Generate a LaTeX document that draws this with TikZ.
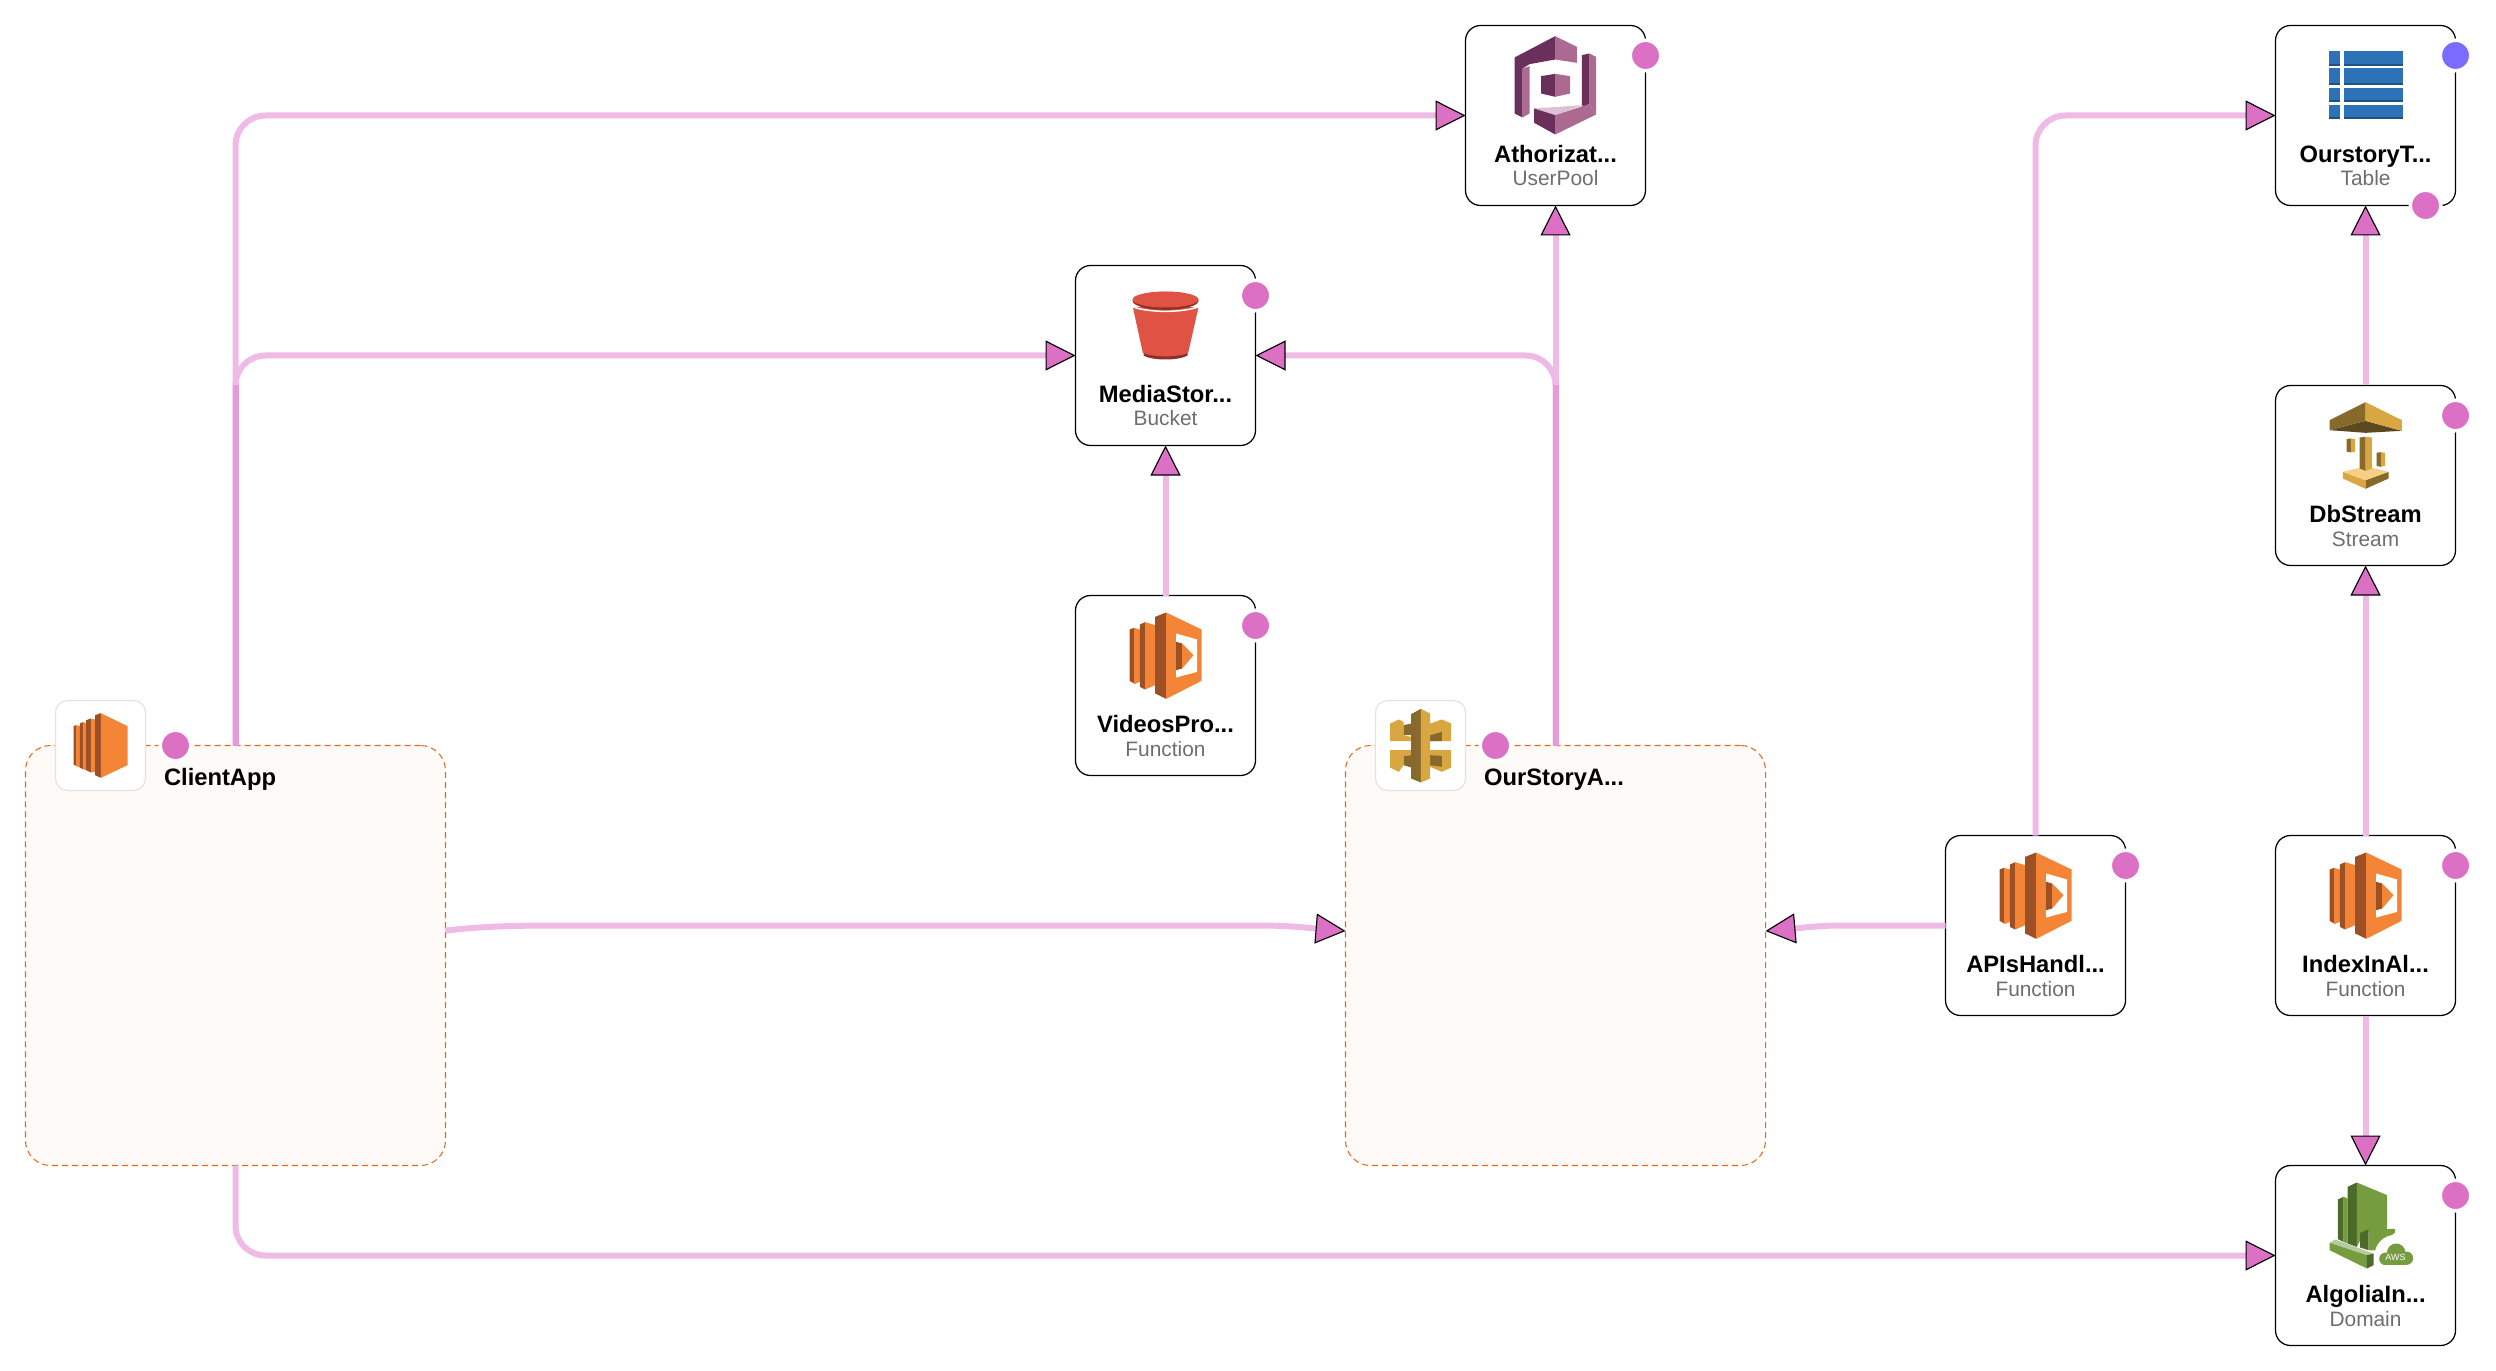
\documentclass[tikz,border=0pt]{standalone}
\usepackage{fontspec}
\setmainfont{Liberation Sans}
\usetikzlibrary{calc}
\usetikzlibrary{arrows.meta}
\definecolor{dotpink}{HTML}{DC70C4}
\definecolor{dotblue}{HTML}{7B6CFF}
\definecolor{linkpale}{HTML}{EFBAE6}
\definecolor{linkdark}{HTML}{E69AD9}
\definecolor{groupfill}{HTML}{FEFAF7}
\definecolor{groupline}{HTML}{E06A1B}
\definecolor{tileline}{HTML}{E2E2E2}
\definecolor{subgray}{HTML}{6E6E6E}
\definecolor{lamOrange}{HTML}{F58536}
\definecolor{lamDark}{HTML}{9D5025}
\definecolor{cogDark}{HTML}{6B2F5C}
\definecolor{cogLight}{HTML}{AD6A91}
\definecolor{cogPale}{HTML}{DDC0D4}
\definecolor{tabBlue}{HTML}{2D72B8}
\definecolor{tabDark}{HTML}{1F527F}
\definecolor{bktRed}{HTML}{E05243}
\definecolor{bktDark}{HTML}{8C3123}
\definecolor{gldMid}{HTML}{D9A741}
\definecolor{gldDark}{HTML}{87692B}
\definecolor{gldDeep}{HTML}{5E4820}
\definecolor{gldPale}{HTML}{F5CF85}
\definecolor{grnMid}{HTML}{759C3E}
\definecolor{grnDark}{HTML}{4C6A2A}
\definecolor{grnPale}{HTML}{B7CA9D}
\tikzset{
    resbox/.style={draw=black, line width=.5pt, fill=white, rounded corners=6pt, minimum size=72pt, inner sep=0pt, outer sep=0pt},
    groupbox/.style={draw=groupline, line width=.42pt, dash pattern=on 2.4pt off 1.6pt, fill=groupfill, rounded corners=10pt, minimum size=168pt, inner sep=0pt, outer sep=0pt},
    tilebox/.style={draw=tileline, line width=.45pt, fill=white, rounded corners=4.8pt, minimum size=36pt, inner sep=0pt, outer sep=0pt},
    restitle/.style={anchor=base, inner sep=0pt, font=\bfseries\fontsize{9.5}{11}\selectfont},
    restype/.style={anchor=base, inner sep=0pt, text=subgray, font=\fontsize{8.35}{10}\selectfont},
    dotmark/.style={circle, draw=white, line width=1.4pt, minimum size=12.2pt, inner sep=0pt, outer sep=0pt},
    flow/.style={draw=linkpale, line width=2.4pt, -{Triangle[length=12pt, width=12pt, line width=.45pt, color=black, fill=dotpink]}},
    flowbend/.style={flow, rounded corners=12pt},
    flowdark/.style={draw=linkdark, line width=2.4pt},
    iconunit/.style={x=.13333pt, y=-.13333pt}
}
\newcommand{\resource}[5]{\node[resbox] (#1) at (#2,#3) {}; \node[restitle] (#1title) at ($(#1.north)+(0,137)$) {#4}; \node[restype] (#1type) at ($(#1.north)+(0,160.5)$) {#5};}
\newcommand{\statusdot}[3]{\node[dotmark, fill=#3] (#1) at (#2) {};}
\newcommand{\iconLambda}[1]{\begin{scope}[shift={(#1.north west)}, iconunit]
\fill[lamDark] (162,102) -- (176,97) -- (176,264) -- (162,256) -- cycle;
\fill[lamOrange] (176,97) -- (193,102) -- (193,259) -- (176,266) -- cycle;
\fill[lamDark] (193,87) -- (209,80) -- (209,282) -- (193,274) -- cycle;
\fill[lamOrange] (209,80) -- (239,89) -- (239,269) -- (209,282) -- cycle;
\fill[lamDark] (239,64) -- (272,51) -- (272,310) -- (239,294) -- cycle;
\fill[lamOrange] (272,51) -- (378,102) -- (378,256) -- (272,310) -- cycle;
\fill[white] (302,114) -- (365,132) -- (365,229) -- (302,246) -- cycle;
\fill[lamDark] (302,139) -- (320,144) -- (320,219) -- (302,224) -- cycle;
\fill[lamOrange] (320,144) -- (354,179) -- (320,219) -- cycle;
\end{scope}}
\newcommand{\iconInstance}[1]{\begin{scope}[shift={(#1.north west)}, iconunit]
\fill[lamDark] (54,77) -- (62,74) -- (62,196) -- (54,192) -- cycle;
\fill[lamOrange] (62,74) -- (73,76) -- (73,201) -- (62,197) -- cycle;
\fill[lamDark] (73,69) -- (82,65) -- (82,206) -- (73,201) -- cycle;
\fill[lamOrange] (82,65) -- (92,67) -- (92,209) -- (82,206) -- cycle;
\fill[lamDark] (92,59) -- (106,54) -- (106,216) -- (92,209) -- cycle;
\fill[lamOrange] (106,54) -- (119,57) -- (119,214) -- (106,216) -- cycle;
\fill[lamDark] (119,44) -- (136,38) -- (136,232) -- (119,224) -- cycle;
\fill[lamOrange] (136,38) -- (216,77) -- (216,194) -- (136,232) -- cycle;
\end{scope}}
\newcommand{\iconGateway}[1]{\begin{scope}[shift={(#1.north west)}, iconunit]
\fill[gldMid] (44,69) -- (70,57) -- (84,64) -- (84,104) -- (107,109) -- (107,122) -- (44,122) -- cycle;
\fill[gldDark] (84,74) -- (107,69) -- (107,104) -- (84,104) -- cycle;
\fill[gldMid] (164,69) -- (199,57) -- (227,69) -- (227,122) -- (164,122) -- cycle;
\fill[gldDark] (164,104) -- (199,94) -- (199,122) -- (164,122) -- cycle;
\fill[gldMid] (44,149) -- (107,149) -- (107,164) -- (84,166) -- (84,194) -- (70,214) -- (44,201) -- cycle;
\fill[gldDark] (84,166) -- (107,164) -- (107,201) -- (84,194) -- cycle;
\fill[gldMid] (164,149) -- (227,149) -- (227,201) -- (199,214) -- (164,199) -- cycle;
\fill[gldDark] (164,164) -- (199,166) -- (199,199) -- (164,194) -- cycle;
\fill[gldDark] (107,41) -- (136,25) -- (136,246) -- (107,234) -- cycle;
\fill[gldMid] (136,25) -- (164,39) -- (164,234) -- (136,246) -- cycle;
\end{scope}}
\newcommand{\iconPool}[1]{\begin{scope}[shift={(#1.north west)}, iconunit]
\fill[cogDark] (147,96) -- (269,32) -- (269,102) -- (192,116) -- (171,129) -- (171,276) -- (147,264) -- cycle;
\fill[cogLight] (171,129) -- (192,122) -- (192,264) -- (171,276) -- cycle;
\fill[cogLight] (269,32) -- (334,64) -- (334,112) -- (269,102) -- cycle;
\fill[cogDark] (349,89) -- (371,84) -- (371,236) -- (349,244) -- cycle;
\fill[cogLight] (371,84) -- (392,94) -- (392,267) -- (371,236) -- cycle;
\fill[cogPale] (206,249) -- (354,239) -- (269,269) -- cycle;
\fill[cogDark] (206,249) -- (269,269) -- (269,327) -- (206,292) -- cycle;
\fill[cogLight] (269,269) -- (371,236) -- (392,267) -- (269,327) -- cycle;
\fill[cogDark] (227,152) -- (269,145) -- (269,214) -- (227,204) -- cycle;
\fill[cogLight] (269,145) -- (314,152) -- (314,204) -- (269,214) -- cycle;
\end{scope}}
\newcommand{\tablerow}[2]{\fill[tabBlue] (160,#1) rectangle (194,#2); \fill[tabBlue] (204,#1) rectangle (382,#2); \fill[tabDark] (160,#2-7) rectangle (194,#2); \fill[tabDark] (204,#2-7) rectangle (382,#2);}
\newcommand{\iconTable}[1]{\begin{scope}[shift={(#1.north west)}, iconunit]
\tablerow{77}{122}
\tablerow{129}{179}
\tablerow{187}{231}
\tablerow{239}{282}
\end{scope}}
\newcommand{\iconBucket}[1]{\begin{scope}[shift={(#1.north west)}, iconunit]
\fill[bktDark] (204,262) -- (336,262) -- (336,270) .. controls (310,286) and (230,286) .. (204,270) -- cycle;
\fill[bktRed] (172,125) -- (369,125) -- (338,262) .. controls (310,276) and (230,276) .. (202,262) -- cycle;
\draw[white, line width=.6pt] (172,124) .. controls (220,142) and (320,142) .. (369,124);
\fill[bktDark] (270,106) ellipse [x radius=99, y radius=27];
\fill[bktRed] (270,102) ellipse [x radius=99, y radius=24];
\end{scope}}
\newcommand{\iconStream}[1]{\begin{scope}[shift={(#1.north west)}, iconunit]
\fill[gldDeep] (162,134) -- (270,106) -- (379,136) -- (270,142) -- cycle;
\fill[gldDark] (162,104) -- (270,50) -- (270,106) -- (162,134) -- cycle;
\fill[gldMid] (270,50) -- (379,104) -- (379,136) -- (270,106) -- cycle;
\fill[gldMid] (202,259) -- (270,284) -- (270,310) -- (202,279) -- cycle;
\fill[gldDark] (270,284) -- (339,259) -- (339,279) -- (270,310) -- cycle;
\fill[gldPale] (202,259) -- (252,247) -- (289,247) -- (339,259) -- (270,284) -- cycle;
\fill[gldDark] (252,156) -- (270,154) -- (270,256) -- (252,249) -- cycle;
\fill[gldMid] (270,154) -- (289,156) -- (289,249) -- (270,256) -- cycle;
\fill[gldDark] (213,161) -- (226,159) -- (226,201) -- (213,198) -- cycle;
\fill[gldMid] (226,159) -- (239,161) -- (239,199) -- (226,201) -- cycle;
\fill[gldDark] (303,202) -- (316,200) -- (316,244) -- (303,241) -- cycle;
\fill[gldMid] (316,200) -- (329,202) -- (329,241) -- (316,244) -- cycle;
\end{scope}}
\newcommand{\iconDomain}[2]{\begin{scope}[shift={(#1.north west)}, iconunit]
\fill[grnDark] (187,102) -- (204,94) -- (204,229) -- (187,221) -- cycle;
\fill[grnMid] (204,94) -- (216,99) -- (216,234) -- (204,229) -- cycle;
\fill[grnDark] (216,64) -- (244,51) -- (244,244) -- (216,234) -- cycle;
\fill[grnMid] (244,51) -- (335,89) -- (335,192) -- (279,199) -- (254,224) -- (244,244) -- cycle;
\fill[grnDark] (254,202) -- (279,192) -- (279,254) -- (254,246) -- cycle;
\fill[grnMid] (279,192) -- (359,190) -- (359,200) -- (299,255) -- (279,254) -- cycle;
\fill[grnPale] (162,232) -- (179,222) -- (294,264) -- (274,269) -- cycle;
\fill[grnMid] (162,232) -- (274,269) -- (274,309) -- (162,254) -- cycle;
\fill[grnDark] (274,269) -- (294,264) -- (294,299) -- (274,309) -- cycle;
\fill[white] (359,270) circle [radius=62];
\fill[grnMid] (362,262) circle [radius=28];
\fill[grnMid] (330,280) circle [radius=19];
\fill[grnMid] (393,278) circle [radius=20];
\fill[grnMid] (330,279) rectangle (393,299);
\node[inner sep=0pt, text=white, font=\fontsize{3.6}{4}\selectfont] (#2) at (360,276) {AWS};
\end{scope}}

\begin{document}
\begin{tikzpicture}[x=.4pt, y=-.4pt]
        \useasboundingbox (0,0) rectangle (2496,1371);
        % groups
        \node[groupbox] (client) at (235.5,955.5) {};
        \node[groupbox] (ourapi) at (1555.5,955.5) {};
        \node[tilebox] (clienttile) at (100.5,745.5) {};
        \node[tilebox] (ourapitile) at (1420.5,745.5) {};
        \node[restitle, anchor=base west] (clienttitle) at (163.5,785.7) {ClientApp};
        \node[restitle, anchor=base west] (ourapititle) at (1483.5,785.7) {OurStoryA...};
        % col1
        \resource{auth}{1555.5}{115.5}{Athorizat...}{UserPool}
        \resource{media}{1165.5}{355.5}{MediaStor...}{Bucket}
        \resource{videos}{1165.5}{685.5}{VideosPro...}{Function}
        % col2
        \resource{apis}{2035.5}{925.5}{APIsHandl...}{Function}
        % col3
        \resource{table}{2365.5}{115.5}{OurstoryT...}{Table}
        \resource{stream}{2365.5}{475.5}{DbStream}{Stream}
        \resource{index}{2365.5}{925.5}{IndexInAl...}{Function}
        \resource{algolia}{2365.5}{1255.5}{AlgoliaIn...}{Domain}
        % free ends on the groups
        \coordinate (clientout) at (445.5,930.7);
        \coordinate (ourapiwest) at (1345.5,931);
        \coordinate (ourapieast) at (1765.5,931);
        % links
        \draw[flowbend] (client.north) |- (auth.west);
        \draw[flowbend] (client.north) |- (media.west);
        \draw[flowbend] (ourapi.north) |- (media.east);
        \draw[flow] (ourapi.north) -- (auth.south);
        \draw[flow] (videos.north) -- (media.south);
        \draw[flow] (clientout) .. controls (480,926.5) and (510,925.5) .. (560,925.5) -- (1260,925.5) .. controls (1290,925.5) and (1315,928.5) .. (ourapiwest);
        \draw[flow] (apis.west) -- (1840,925.5) .. controls (1820,925.5) and (1800,928) .. (ourapieast);
        \draw[flowbend] (apis.north) |- (table.west);
        \draw[flow] (stream.north) -- (table.south);
        \draw[flow] (index.north) -- (stream.south);
        \draw[flow] (index.south) -- (algolia.north);
        \draw[flowbend] (client.south) |- (algolia.west);
        % shared stretches
        \draw[flowdark] (client.north) -- ($(client.north |- media.west)+(0,30)$);
        \draw[flowdark] (ourapi.north) -- ($(ourapi.north |- media.east)+(0,30)$);
        % icons
        \iconInstance{clienttile}
        \iconGateway{ourapitile}
        \iconPool{auth}
        \iconBucket{media}
        \iconLambda{videos}
        \iconLambda{apis}
        \iconTable{table}
        \iconStream{stream}
        \iconLambda{index}
        \iconDomain{algolia}{awsmark}
        % dots
        \statusdot{clientdot}{175.5,745.5}{dotpink}
        \statusdot{ourapidot}{1495.5,745.5}{dotpink}
        \statusdot{authdot}{$(auth.north east)+(0,30)$}{dotpink}
        \statusdot{mediadot}{$(media.north east)+(0,30)$}{dotpink}
        \statusdot{videosdot}{$(videos.north east)+(0,30)$}{dotpink}
        \statusdot{apisdot}{$(apis.north east)+(0,30)$}{dotpink}
        \statusdot{tabledot}{$(table.north east)+(0,30)$}{dotblue}
        \statusdot{tablelow}{$(table.south east)+(-30,0)$}{dotpink}
        \statusdot{streamdot}{$(stream.north east)+(0,30)$}{dotpink}
        \statusdot{indexdot}{$(index.north east)+(0,30)$}{dotpink}
        \statusdot{algoliadot}{$(algolia.north east)+(0,30)$}{dotpink}
    \end{tikzpicture}
\end{document}
